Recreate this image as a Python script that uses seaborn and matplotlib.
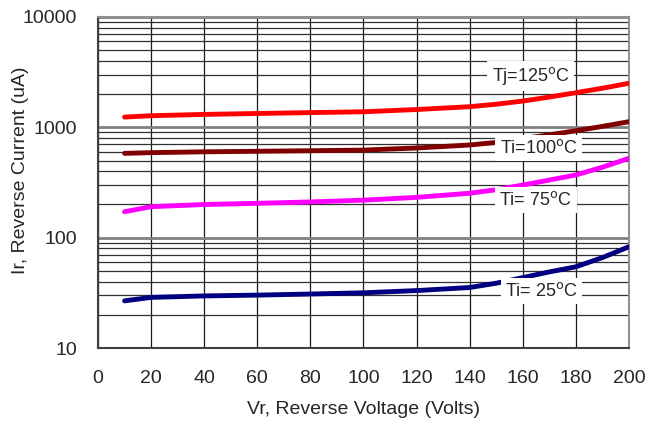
import numpy as np
import pandas as pd
import matplotlib
matplotlib.use('Agg')
import matplotlib.pyplot as plt
import seaborn as sns
from matplotlib.ticker import LogLocator, FixedLocator, NullFormatter

# Valores
vr = [10, 20, 40, 60, 80, 100, 120, 140, 150, 160, 170, 180, 190, 200]
ir_125 = [1239, 1274, 1310, 1335, 1360, 1384, 1450, 1538, 1620, 1730, 1880, 2060, 2260, 2507]
ir_100 = [581, 590, 600, 607, 614, 622, 650, 692, 730, 790, 855, 931, 1020, 1125]
ir_75 = [172, 191, 200, 205, 211, 219, 232, 253, 272, 300, 333, 370, 435, 524]
ir_25 = [26.8, 28.8, 29.7, 30.2, 30.9, 31.7, 33.2, 35.4, 38.7, 43.5, 49, 54.5, 66, 82.8]

series = ['125', '100', '75', '25']
cores = ['#ff0000', '#800000', '#ff00ff', '#000080']
rotulos = ['Tj=125$^{\\rm o}$C', 'Ti=100$^{\\rm o}$C', 'Ti= 75$^{\\rm o}$C', 'Ti= 25$^{\\rm o}$C']
rotulo_x = [163, 166, 165, 167]
rotulo_y = [2917, 649, 219, 32.8]

Base_Dados = pd.DataFrame({
    'Vr': vr * 4,
    'Ir': ir_125 + ir_100 + ir_75 + ir_25,
    'Tj': sum([[s] * len(vr) for s in series], []),
})

sns.set_style('white')
plt.rcParams['font.family'] = ['Liberation Sans', 'DejaVu Sans']

fig = plt.figure(figsize=(6.45, 4.24), dpi=100)
ax = fig.add_axes([0.152, 0.179, 0.823, 0.781])

sns.lineplot(data=Base_Dados, x='Vr', y='Ir', hue='Tj', palette=dict(zip(series, cores)),
             linewidth=3.5, legend=False, ax=ax, solid_capstyle='round', zorder=3)

ax.set_yscale('log')
ax.set_xlim(0, 200)
ax.set_ylim(10, 10000)
ax.set_xticks(range(0, 201, 20))
ax.yaxis.set_major_locator(FixedLocator([10, 100, 1000, 10000]))
ax.set_yticklabels(['10', '100', '1000', '10000'])
ax.yaxis.set_minor_locator(LogLocator(base=10, subs=np.arange(2, 10)))
ax.yaxis.set_minor_formatter(NullFormatter())

# Grade
ax.grid(True, which='major', axis='x', color='#1a1a1a', linewidth=0.9, zorder=0)
ax.grid(True, which='major', axis='y', color='#808080', linewidth=2, zorder=0)
ax.grid(True, which='minor', axis='y', color='#303030', linewidth=0.9, zorder=0)

ax.tick_params(axis='both', which='major', direction='out', length=5, width=1,
               color='#404040', labelsize=14)
ax.tick_params(axis='x', which='major', pad=11)
ax.tick_params(axis='y', which='major', pad=10)
ax.tick_params(axis='y', which='minor', length=0)

for lado in ['left', 'bottom']:
    ax.spines[lado].set_color('#404040')
    ax.spines[lado].set_linewidth(1.5)
for lado in ['right', 'top']:
    ax.spines[lado].set_color('#909090')
    ax.spines[lado].set_linewidth(1.5)

ax.set_xlabel('Vr, Reverse Voltage (Volts)', fontsize=14, labelpad=10)
ax.set_ylabel('Ir, Reverse Current (uA)', fontsize=14)
ax.yaxis.set_label_coords(-0.13, 0.538)

for txt, xx, yy in zip(rotulos, rotulo_x, rotulo_y):
    ax.text(xx, yy, txt, fontsize=13, ha='center', va='center', zorder=5,
            bbox=dict(facecolor='white', edgecolor='none', pad=3))

plt.savefig('out.png', dpi=100)
